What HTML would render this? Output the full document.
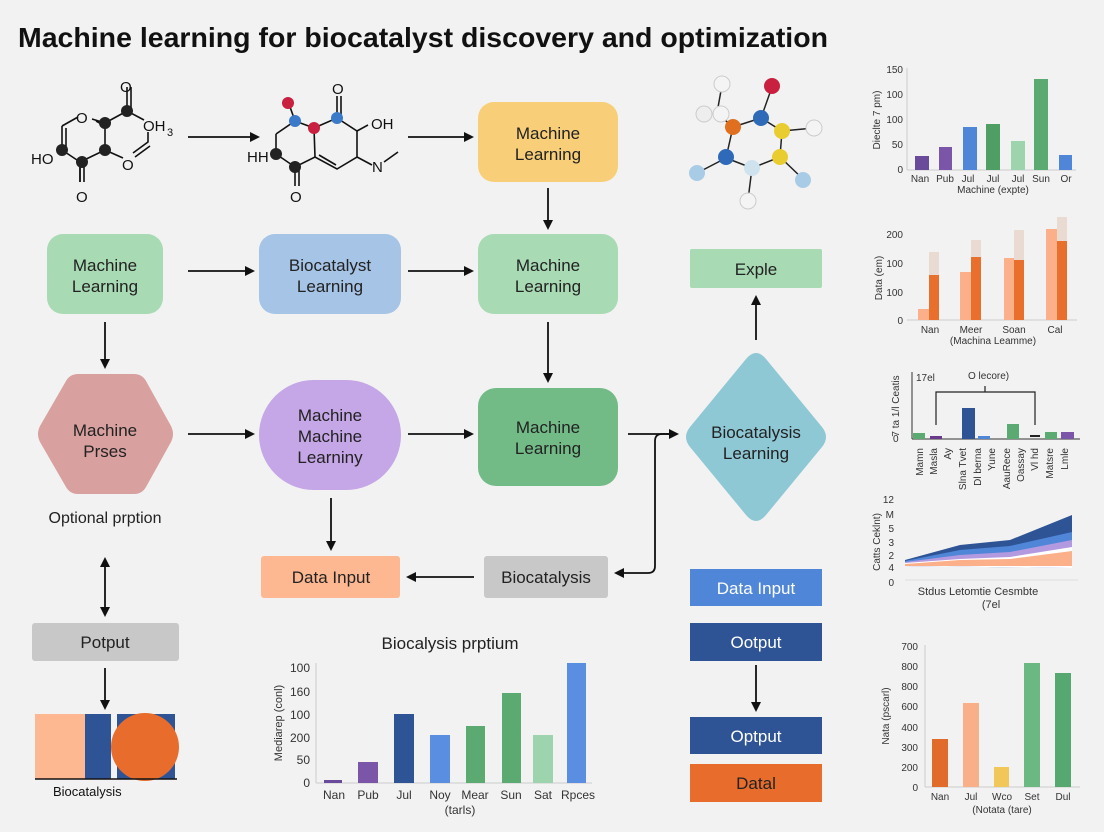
<!DOCTYPE html>
<html><head><meta charset="utf-8"><style>
html,body{margin:0;padding:0;background:#f2f2f2}
svg{display:block;font-family:"Liberation Sans",Arial,sans-serif}
</style></head><body>
<svg width="1104" height="832" viewBox="0 0 1104 832" xmlns="http://www.w3.org/2000/svg">
<defs>
<marker id="a" markerWidth="10" markerHeight="10" refX="8" refY="5" orient="auto" markerUnits="userSpaceOnUse"><path d="M0,0 L10,5 L0,10 z" fill="#111"/></marker>
<marker id="s" markerWidth="10" markerHeight="10" refX="2" refY="5" orient="auto" markerUnits="userSpaceOnUse"><path d="M10,0 L0,5 L10,10 z" fill="#111"/></marker>
</defs>
<rect width="1104" height="832" fill="#f2f2f2"/>
<text x="18" y="47" font-size="28" font-weight="bold" fill="#111" textLength="810" lengthAdjust="spacingAndGlyphs">Machine learning for biocatalyst discovery and optimization</text>

<!-- Molecule 1 -->
<g stroke="#111" stroke-width="1.6" fill="none">
<polyline points="62,126 62,150 80,162 80,182"/><line x1="66" y1="128" x2="66" y2="148"/>
<polyline points="62,126 78,117"/><polyline points="92,119 105,123 105,150 80,162"/>
<line x1="105" y1="123" x2="127" y2="111"/><line x1="127" y1="111" x2="127" y2="87"/><line x1="131" y1="111" x2="131" y2="87"/>
<line x1="127" y1="111" x2="144" y2="120"/><line x1="105" y1="150" x2="123" y2="158"/>
<polyline points="133,153 148,142 148,132"/><line x1="135" y1="157" x2="150" y2="146"/>
<line x1="96" y1="121" x2="105" y2="126"/><line x1="80" y1="162" x2="80" y2="182"/><line x1="84" y1="162" x2="84" y2="182"/>
</g>
<g fill="#222"><circle cx="62" cy="150" r="6"/><circle cx="82" cy="162" r="6"/><circle cx="105" cy="150" r="6"/><circle cx="105" cy="123" r="6"/><circle cx="127" cy="111" r="6"/></g>
<g font-size="15" fill="#111"><text x="120" y="92">O</text><text x="76" y="123">O</text><text x="143" y="131">OH</text><text x="167" y="136" font-size="11">3</text><text x="31" y="164">HO</text><text x="122" y="170">O</text><text x="76" y="202">O</text></g>
<!-- Molecule 2 -->
<g stroke="#111" stroke-width="1.6" fill="none">
<polyline points="276,134 295,121 314,128 337,118 357,131 357,157 337,169 315,157 295,167 276,154 276,134"/>
<line x1="314" y1="128" x2="315" y2="157"/><line x1="319" y1="155" x2="336" y2="165"/>
<line x1="295" y1="121" x2="289" y2="104"/><line x1="337" y1="118" x2="337" y2="96"/><line x1="341" y1="118" x2="341" y2="96"/>
<line x1="357" y1="131" x2="368" y2="125"/><line x1="357" y1="157" x2="372" y2="165"/><line x1="384" y1="162" x2="398" y2="152"/>
<line x1="295" y1="167" x2="295" y2="186"/><line x1="299" y1="167" x2="299" y2="186"/>
</g>
<circle cx="288" cy="103" r="6" fill="#c8203e"/><circle cx="295" cy="121" r="6" fill="#3a7ac8"/><circle cx="314" cy="128" r="6" fill="#c8203e"/><circle cx="337" cy="118" r="6" fill="#3a7ac8"/><circle cx="276" cy="154" r="6" fill="#222"/><circle cx="295" cy="167" r="6" fill="#222"/>
<g font-size="15" fill="#111"><text x="332" y="94">O</text><text x="371" y="129">OH</text><text x="247" y="162">HH</text><text x="372" y="172">N</text><text x="290" y="202">O</text></g>
<!-- Molecule 3D -->
<g stroke="#222" stroke-width="1.5">
<line x1="733" y1="127" x2="761" y2="118"/><line x1="761" y1="118" x2="772" y2="87"/><line x1="761" y1="118" x2="782" y2="131"/><line x1="782" y1="131" x2="780" y2="157"/><line x1="780" y1="157" x2="752" y2="168"/><line x1="752" y1="168" x2="726" y2="158"/><line x1="726" y1="158" x2="733" y2="127"/>
<line x1="733" y1="127" x2="717" y2="113"/><line x1="717" y1="113" x2="722" y2="85"/><line x1="782" y1="131" x2="814" y2="128"/><line x1="780" y1="157" x2="803" y2="179"/><line x1="752" y1="168" x2="748" y2="200"/><line x1="726" y1="158" x2="699" y2="172"/>
</g>
<circle cx="722" cy="84" r="8" fill="#f4f4f4" stroke="#ccc"/><circle cx="704" cy="114" r="8" fill="#eee" stroke="#ccc"/><circle cx="721" cy="114" r="8" fill="#f4f4f4" stroke="#ccc"/>
<circle cx="772" cy="86" r="8" fill="#c8203e"/><circle cx="761" cy="118" r="8" fill="#2e6ab8"/><circle cx="733" cy="127" r="8" fill="#e07020"/><circle cx="782" cy="131" r="8" fill="#e8cc30"/><circle cx="814" cy="128" r="8" fill="#f4f4f4" stroke="#ccc"/><circle cx="726" cy="157" r="8" fill="#2e6ab8"/><circle cx="752" cy="168" r="8" fill="#cfe2ee"/><circle cx="780" cy="157" r="8" fill="#e8cc30"/><circle cx="697" cy="173" r="8" fill="#a8cce6"/><circle cx="803" cy="180" r="8" fill="#a8cce6"/><circle cx="748" cy="201" r="8" fill="#f4f4f4" stroke="#ccc"/>

<!-- Nodes -->
<g font-size="17" fill="#222" text-anchor="middle">
<rect x="478" y="102" width="140" height="80" rx="16" fill="#f8cf78"/><text x="548" y="139">Machine</text><text x="548" y="160">Learning</text>
<rect x="47" y="234" width="116" height="80" rx="16" fill="#a8dab4"/><text x="105" y="271">Machine</text><text x="105" y="292">Learning</text>
<rect x="259" y="234" width="142" height="80" rx="16" fill="#a6c4e6"/><text x="330" y="271">Biocatalyst</text><text x="330" y="292">Learning</text>
<rect x="478" y="234" width="140" height="80" rx="16" fill="#a8dab4"/><text x="548" y="271">Machine</text><text x="548" y="292">Learning</text>
<rect x="690" y="249" width="132" height="39" rx="2" fill="#a8dab4"/><text x="756" y="275">Exple</text>
<path d="M78,374 L134,374 Q142,374 146,381 L171,426 Q175,434 171,442 L146,487 Q142,494 134,494 L78,494 Q70,494 66,487 L40,442 Q36,434 40,426 L66,381 Q70,374 78,374 Z" fill="#d8a09e"/><text x="105" y="436">Machine</text><text x="105" y="457">Prses</text>
<rect x="259" y="380" width="142" height="110" rx="55" fill="#c5a6e6"/><text x="330" y="421">Machine</text><text x="330" y="442">Machine</text><text x="330" y="463">Learniny</text>
<rect x="478" y="388" width="140" height="98" rx="18" fill="#72bb86"/><text x="548" y="433">Machine</text><text x="548" y="454">Learning</text>
<path d="M746,359 Q756,347 766,359 L822,427 Q830,437 822,447 L766,515 Q756,527 746,515 L690,447 Q682,437 690,427 Z" fill="#8ec8d4"/><text x="756" y="438">Biocatalysis</text><text x="756" y="459">Learning</text>
<text x="105" y="523" font-size="16">Optional prption</text>
<rect x="261" y="556" width="139" height="42" rx="3" fill="#fdb892"/><text x="331" y="583">Data Input</text>
<rect x="484" y="556" width="124" height="42" rx="3" fill="#c8c8c8"/><text x="546" y="583">Biocatalysis</text>
<rect x="32" y="623" width="147" height="38" rx="3" fill="#c8c8c8"/><text x="105" y="648">Potput</text>
<g fill="#fff"><rect x="690" y="569" width="132" height="37" fill="#4f86d8"/><text x="756" y="594">Data Input</text>
<rect x="690" y="623" width="132" height="38" fill="#2e5495"/><text x="756" y="648">Ootput</text>
<rect x="690" y="717" width="132" height="37" fill="#2e5495"/><text x="756" y="742">Optput</text>
<rect x="690" y="764" width="132" height="38" fill="#e86d2c"/><text x="756" y="789" fill="#222">Datal</text></g>
</g>

<!-- Arrows -->
<g stroke="#111" stroke-width="1.8" fill="none" marker-end="url(#a)">
<line x1="188" y1="137" x2="258" y2="137"/><line x1="408" y1="137" x2="472" y2="137"/>
<line x1="548" y1="188" x2="548" y2="228"/>
<line x1="188" y1="271" x2="253" y2="271"/><line x1="408" y1="271" x2="472" y2="271"/>
<line x1="105" y1="322" x2="105" y2="367"/><line x1="548" y1="322" x2="548" y2="381"/>
<line x1="188" y1="434" x2="253" y2="434"/><line x1="408" y1="434" x2="472" y2="434"/>
<path d="M628,434 L677,434"/>
<path d="M677,434 L662,434 Q655,434 655,441 L655,566 Q655,573 648,573 L616,573"/>
<line x1="331" y1="498" x2="331" y2="549"/><line x1="474" y1="577" x2="408" y2="577"/>
<line x1="105" y1="559" x2="105" y2="615" marker-start="url(#s)"/>
<line x1="105" y1="668" x2="105" y2="708"/>
<line x1="756" y1="340" x2="756" y2="297"/><line x1="756" y1="665" x2="756" y2="710"/>
</g>

<!-- Bottom-left graphic -->
<rect x="35" y="714" width="50" height="65" fill="#fdb892"/><rect x="85" y="714" width="26" height="65" fill="#2e5495"/><rect x="117" y="714" width="58" height="65" fill="#2e5495"/>
<circle cx="145" cy="747" r="34" fill="#e86d2c"/>
<line x1="35" y1="779" x2="177" y2="779" stroke="#111" stroke-width="1.5"/>
<text x="53" y="796" font-size="13" fill="#111">Biocatalysis</text>

<!-- Bottom center chart -->
<g font-size="12" fill="#333">
<text x="450" y="649" font-size="17" text-anchor="middle" fill="#222">Biocalysis prptium</text>
<line x1="316" y1="663" x2="316" y2="783" stroke="#ccc"/><line x1="316" y1="783" x2="592" y2="783" stroke="#ccc"/>
<g text-anchor="end"><text x="310" y="672">100</text><text x="310" y="696">160</text><text x="310" y="719">100</text><text x="310" y="742">200</text><text x="310" y="764">50</text><text x="310" y="787">0</text></g>
<text transform="translate(282,723) rotate(-90)" text-anchor="middle" font-size="11">Mediarep (conl)</text>
<rect x="324" y="780" width="18" height="3" fill="#6a4a9a"/><rect x="358" y="762" width="20" height="21" fill="#7a55a8"/><rect x="394" y="714" width="20" height="69" fill="#2e5495"/><rect x="430" y="735" width="20" height="48" fill="#5a8ee0"/><rect x="466" y="726" width="19" height="57" fill="#5aaa72"/><rect x="502" y="693" width="19" height="90" fill="#5aaa72"/><rect x="533" y="735" width="20" height="48" fill="#9dd4ae"/><rect x="567" y="663" width="19" height="120" fill="#5a8ee0"/>
<g text-anchor="middle"><text x="334" y="799">Nan</text><text x="368" y="799">Pub</text><text x="404" y="799">Jul</text><text x="440" y="799">Noy</text><text x="475" y="799">Mear</text><text x="511" y="799">Sun</text><text x="543" y="799">Sat</text><text x="578" y="799">Rpces</text><text x="460" y="814">(tarls)</text></g>
</g>

<!-- Right charts -->
<g font-size="10" fill="#333">
<!-- chart1 -->
<line x1="907" y1="68" x2="907" y2="170" stroke="#ccc"/><line x1="907" y1="170" x2="1076" y2="170" stroke="#ccc"/>
<g text-anchor="end"><text x="903" y="73">150</text><text x="903" y="98">100</text><text x="903" y="123">100</text><text x="903" y="148">50</text><text x="903" y="173">0</text></g>
<text transform="translate(880,120) rotate(-90)" text-anchor="middle">Dieclte 7 pm)</text>
<rect x="915" y="156" width="14" height="14" fill="#6a4a9a"/><rect x="939" y="147" width="13" height="23" fill="#7a55a8"/><rect x="963" y="127" width="14" height="43" fill="#4f86d8"/><rect x="986" y="124" width="14" height="46" fill="#4f9e64"/><rect x="1011" y="141" width="14" height="29" fill="#9dd4ae"/><rect x="1034" y="79" width="14" height="91" fill="#5aaa72"/><rect x="1059" y="155" width="13" height="15" fill="#4f86d8"/>
<g text-anchor="middle"><text x="920" y="182">Nan</text><text x="945" y="182">Pub</text><text x="968" y="182">Jul</text><text x="993" y="182">Jul</text><text x="1018" y="182">Jul</text><text x="1041" y="182">Sun</text><text x="1066" y="182">Or</text><text x="993" y="193">Machine (expte)</text></g>
<!-- chart2 -->
<line x1="907" y1="320" x2="1077" y2="320" stroke="#ccc"/>
<g text-anchor="end"><text x="903" y="238">200</text><text x="903" y="267">100</text><text x="903" y="296">100</text><text x="903" y="324">0</text></g>
<text transform="translate(882,278) rotate(-90)" text-anchor="middle">Data (em)</text>
<g fill="#eadbd2"><rect x="929" y="252" width="10" height="68"/><rect x="971" y="240" width="10" height="80"/><rect x="1014" y="230" width="10" height="90"/><rect x="1057" y="217" width="10" height="103"/></g>
<g fill="#fbb08a"><rect x="918" y="309" width="11" height="11"/><rect x="960" y="272" width="11" height="48"/><rect x="1004" y="258" width="10" height="62"/><rect x="1046" y="229" width="11" height="91"/></g>
<g fill="#e8702c"><rect x="929" y="275" width="10" height="45"/><rect x="971" y="257" width="10" height="63"/><rect x="1014" y="260" width="10" height="60"/><rect x="1057" y="241" width="10" height="79"/></g>
<g text-anchor="middle"><text x="930" y="333">Nan</text><text x="971" y="333">Meer</text><text x="1014" y="333">Soan</text><text x="1055" y="333">Cal</text><text x="993" y="344">(Machina Leamme)</text></g>
<!-- chart3 -->
<line x1="912" y1="372" x2="912" y2="439" stroke="#333"/><line x1="912" y1="439" x2="1080" y2="439" stroke="#333"/>
<text x="916" y="381">17el</text><text x="968" y="379">O lecore)</text>
<text transform="translate(899,406) rotate(-90)" text-anchor="middle">7 ta 1/l Ceatis</text><text x="893" y="442">0</text>
<path d="M936,425 L936,392 L1035,392 L1035,425 M985,392 L985,386" stroke="#222" stroke-width="1.2" fill="none"/>
<rect x="913" y="433" width="12" height="6" fill="#5aaa72"/><rect x="930" y="436" width="12" height="3" fill="#6a3a8a"/><rect x="962" y="408" width="13" height="31" fill="#2e5495"/><rect x="978" y="436" width="12" height="3" fill="#4f86d8"/><rect x="1007" y="424" width="12" height="15" fill="#5aaa72"/><rect x="1030" y="435" width="10" height="2" fill="#222"/><rect x="1045" y="432" width="12" height="7" fill="#5aaa72"/><rect x="1061" y="432" width="13" height="7" fill="#7a55a8"/>
<g font-size="10"><text transform="translate(923,448) rotate(-90)" text-anchor="end">Mamn</text><text transform="translate(937,448) rotate(-90)" text-anchor="end">Masla</text><text transform="translate(951,448) rotate(-90)" text-anchor="end">Ay</text><text transform="translate(966,448) rotate(-90)" text-anchor="end">Slna Tvet</text><text transform="translate(981,448) rotate(-90)" text-anchor="end">Dl berna</text><text transform="translate(995,448) rotate(-90)" text-anchor="end">Yune</text><text transform="translate(1010,448) rotate(-90)" text-anchor="end">AauRece</text><text transform="translate(1024,448) rotate(-90)" text-anchor="end">Oassay</text><text transform="translate(1038,448) rotate(-90)" text-anchor="end">Vl hd</text><text transform="translate(1053,448) rotate(-90)" text-anchor="end">Matsre</text><text transform="translate(1068,448) rotate(-90)" text-anchor="end">Lmle</text></g>
<!-- chart4 -->
<line x1="905" y1="580" x2="1078" y2="580" stroke="#ddd"/>
<g text-anchor="end"><text x="894" y="503">12</text><text x="894" y="518">M</text><text x="894" y="532">5</text><text x="894" y="546">3</text><text x="894" y="559">2</text><text x="894" y="571">4</text><text x="894" y="586">0</text></g>
<text transform="translate(880,542) rotate(-90)" text-anchor="middle">Catts Ceklnt)</text>
<path d="M905,560 L960,545 L1010,540 L1072,515 L1072,568 L1010,566 L960,566 L905,566 Z" fill="#2e5495"/>
<path d="M905,561 L960,550 L1010,546 L1072,532 L1072,568 L905,566 Z" fill="#4f86d8"/>
<path d="M905,562 L960,555 L1010,552 L1072,540 L1072,568 L905,566 Z" fill="#b39ae0"/>
<path d="M905,563 L960,559 L1010,557 L1072,547 L1072,568 L905,566 Z" fill="#fff"/>
<path d="M905,564 L960,560 L1010,559 L1072,551 L1072,566 L905,566 Z" fill="#fbb08a"/>
<text x="978" y="595" text-anchor="middle" font-size="11">Stdus  Letomtie Cesmbte</text><text x="991" y="608" text-anchor="middle" font-size="11">(7el</text>
<!-- chart5 -->
<line x1="925" y1="645" x2="925" y2="787" stroke="#ccc"/><line x1="925" y1="787" x2="1080" y2="787" stroke="#ccc"/>
<g text-anchor="end"><text x="918" y="650">700</text><text x="918" y="670">800</text><text x="918" y="690">800</text><text x="918" y="710">600</text><text x="918" y="731">400</text><text x="918" y="751">300</text><text x="918" y="771">200</text><text x="918" y="791">0</text></g>
<text transform="translate(889,716) rotate(-90)" text-anchor="middle">Nata (pscarl)</text>
<rect x="932" y="739" width="16" height="48" fill="#e06b2a"/><rect x="963" y="703" width="16" height="84" fill="#f9b088"/><rect x="994" y="767" width="15" height="20" fill="#f2c75a"/><rect x="1024" y="663" width="16" height="124" fill="#6bb882"/><rect x="1055" y="673" width="16" height="114" fill="#55a870"/>
<g text-anchor="middle"><text x="940" y="800">Nan</text><text x="971" y="800">Jul</text><text x="1002" y="800">Wco</text><text x="1032" y="800">Set</text><text x="1063" y="800">Dul</text><text x="1002" y="813">(Notata (tare)</text></g>
</g>
</svg>
</body></html>
